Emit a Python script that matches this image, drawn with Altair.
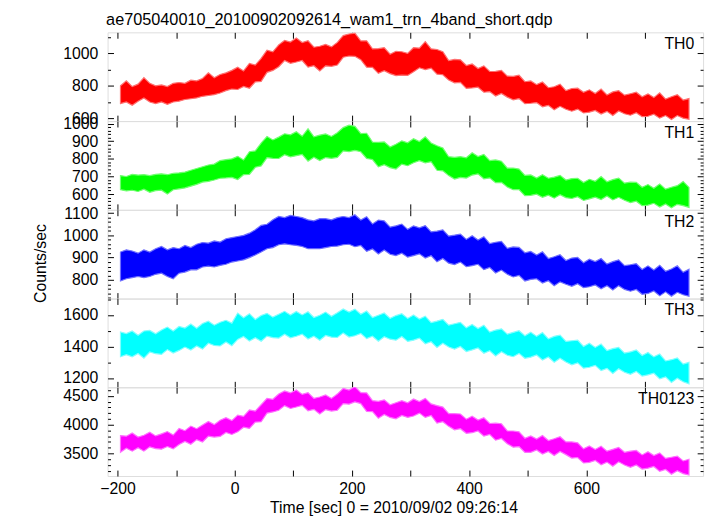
import altair as alt
import pandas as pd

FONT = "Liberation Sans"
W, H = 604, 90
XDOM = [-217, 799]

TITLE = "ae705040010_20100902092614_wam1_trn_4band_short.qdp"
XTITLE = "Time [sec] 0 = 2010/09/02 09:26:14"
YTITLE = "Counts/sec"

TIME = [-195, -185, -175, -165, -155, -145, -135, -125, -115, -105,
        -95, -85, -75, -65, -55, -45, -35, -25, -15, -5,
        5, 15, 25, 35, 45, 55, 65, 75, 85, 95,
        105, 115, 125, 135, 145, 155, 165, 175, 185, 195,
        205, 215, 225, 235, 245, 255, 265, 275, 285, 295,
        305, 315, 325, 335, 345, 355, 365, 375, 385, 395,
        405, 415, 425, 435, 445, 455, 465, 475, 485, 495,
        505, 515, 525, 535, 545, 555, 565, 575, 585, 595,
        605, 615, 625, 635, 645, 655, 665, 675, 685, 695,
        705, 715, 725, 735, 745, 755, 765, 775]

TH0_HI = [800, 830, 795, 810, 850, 815, 800, 805, 795, 815,
          820, 815, 835, 830, 845, 880, 850, 870, 880, 895,
          915, 892, 938, 928, 969, 1020, 1010, 1053, 1080, 1070,
          1095, 1067, 1078, 1038, 1044, 1055, 1040, 1068, 1110, 1120,
          1125, 1077, 1078, 1028, 1029, 1035, 995, 1013, 1010, 1000,
          1035, 1032, 1073, 1028, 1024, 1010, 955, 963, 960, 925,
          935, 907, 923, 888, 889, 895, 860, 858, 865, 825,
          830, 807, 823, 788, 794, 810, 770, 783, 785, 760,
          775, 752, 780, 743, 762, 770, 742, 751, 760, 732,
          750, 727, 756, 718, 732, 745, 712, 721]
TH0_LO = [690, 700, 680, 705, 725, 700, 690, 700, 685, 700,
          705, 715, 720, 725, 735, 740, 745, 755, 770, 780,
          777, 796, 785, 824, 827, 883, 895, 918, 956, 939,
          947, 956, 915, 924, 892, 923, 920, 928, 976, 984,
          982, 961, 915, 914, 877, 893, 875, 863, 866, 864,
          887, 911, 900, 909, 872, 868, 835, 818, 821, 784,
          787, 791, 760, 764, 737, 753, 730, 713, 721, 689,
          692, 696, 670, 679, 652, 673, 655, 643, 656, 632,
          637, 648, 625, 642, 617, 644, 627, 618, 634, 609,
          612, 624, 600, 616, 592, 616, 600, 593]

TH1_HI = [705, 700, 712, 708, 710, 705, 712, 715, 710, 718,
          720, 725, 735, 745, 755, 765, 770, 790, 795, 800,
          814, 793, 840, 845, 889, 926, 907, 923, 942, 936,
          954, 928, 970, 925, 934, 941, 927, 948, 977, 991,
          984, 943, 945, 895, 894, 896, 867, 883, 902, 891,
          914, 898, 925, 890, 874, 861, 812, 808, 812, 806,
          834, 813, 825, 790, 794, 786, 747, 748, 742, 706,
          709, 691, 710, 690, 696, 706, 680, 688, 690, 666,
          684, 673, 700, 670, 682, 691, 662, 668, 667, 639,
          654, 633, 657, 628, 639, 648, 672, 638]
TH1_LO = [625, 618, 622, 615, 628, 610, 620, 622, 600, 625,
          630, 635, 645, 655, 668, 672, 680, 690, 692, 695,
          683, 710, 712, 752, 760, 807, 803, 802, 823, 811,
          818, 825, 787, 809, 790, 807, 803, 808, 845, 841,
          848, 840, 802, 796, 755, 767, 750, 742, 770, 761,
          778, 790, 777, 784, 735, 732, 705, 685, 695, 691,
          708, 715, 687, 692, 665, 667, 640, 625, 625, 591,
          593, 600, 582, 594, 577, 597, 580, 575, 585, 564,
          573, 583, 569, 589, 567, 582, 565, 552, 560, 534,
          538, 548, 527, 544, 523, 542, 535, 525]

TH2_HI = [925, 935, 930, 920, 935, 925, 940, 950, 935, 945,
          940, 955, 945, 960, 968, 965, 975, 970, 985, 990,
          995, 1000, 1010, 1025, 1045, 1050, 1070, 1085, 1080, 1090,
          1085, 1080, 1070, 1065, 1075, 1075, 1070, 1080, 1085, 1080,
          1093, 1069, 1084, 1051, 1069, 1065, 1037, 1043, 1051, 1027,
          1043, 1034, 1044, 1016, 1019, 1025, 997, 1001, 1006, 982,
          998, 979, 994, 963, 969, 973, 942, 948, 946, 922,
          928, 912, 926, 896, 904, 913, 887, 898, 901, 877,
          893, 882, 896, 871, 882, 890, 864, 868, 873, 847,
          863, 844, 866, 839, 849, 863, 834, 848]
TH2_LO = [795, 805, 810, 815, 810, 815, 825, 830, 815, 805,
          830, 835, 845, 845, 858, 862, 858, 865, 870, 880,
          885, 890, 900, 912, 925, 940, 945, 958, 962, 958,
          955, 950, 940, 940, 940, 945, 950, 952, 958, 960,
          949, 955, 928, 939, 916, 934, 915, 909, 920, 902,
          909, 917, 898, 909, 881, 896, 875, 869, 880, 859,
          864, 870, 846, 856, 831, 844, 825, 813, 820, 795,
          802, 805, 786, 796, 774, 791, 780, 771, 783, 765,
          769, 777, 760, 774, 754, 774, 757, 749, 757, 735,
          739, 750, 728, 746, 726, 744, 733, 726]

TH3_HI = [1492, 1482, 1498, 1471, 1498, 1502, 1480, 1504, 1523, 1498,
          1527, 1517, 1542, 1516, 1546, 1560, 1535, 1554, 1566, 1548,
          1612, 1582, 1608, 1571, 1596, 1610, 1586, 1604, 1623, 1600,
          1622, 1600, 1620, 1584, 1598, 1618, 1592, 1614, 1638, 1618,
          1637, 1604, 1625, 1584, 1598, 1612, 1578, 1596, 1608, 1578,
          1600, 1574, 1592, 1551, 1561, 1572, 1535, 1544, 1553, 1518,
          1540, 1514, 1535, 1491, 1504, 1512, 1478, 1489, 1500, 1468,
          1490, 1464, 1488, 1448, 1464, 1472, 1432, 1436, 1440, 1400,
          1420, 1394, 1415, 1374, 1386, 1394, 1358, 1366, 1378, 1343,
          1362, 1334, 1352, 1308, 1316, 1327, 1288, 1299]
TH3_LO = [1335, 1348, 1334, 1355, 1326, 1365, 1354, 1350, 1380, 1358,
          1375, 1396, 1377, 1403, 1383, 1420, 1406, 1403, 1428, 1405,
          1445, 1463, 1434, 1455, 1433, 1466, 1456, 1453, 1478, 1455,
          1465, 1478, 1447, 1465, 1440, 1470, 1459, 1457, 1486, 1460,
          1468, 1483, 1450, 1465, 1433, 1462, 1446, 1440, 1463, 1432,
          1440, 1453, 1417, 1430, 1393, 1420, 1396, 1383, 1400, 1368,
          1378, 1390, 1357, 1373, 1340, 1366, 1344, 1335, 1356, 1325,
          1332, 1346, 1314, 1333, 1300, 1325, 1302, 1283, 1296, 1262,
          1268, 1280, 1247, 1261, 1228, 1258, 1236, 1223, 1242, 1212,
          1220, 1230, 1194, 1207, 1172, 1198, 1176, 1163]

TH0123_HI = [3810, 3800, 3855, 3785, 3815, 3870, 3805, 3840, 3880, 3820,
             3935, 3895, 3975, 3930, 3995, 4055, 4000, 4075, 4120, 4070,
             4165, 4145, 4255, 4235, 4345, 4455, 4440, 4530, 4585, 4550,
             4600, 4525, 4555, 4455, 4480, 4515, 4455, 4530, 4630, 4600,
             4660, 4555, 4550, 4415, 4405, 4430, 4345, 4380, 4415, 4380,
             4445, 4400, 4455, 4360, 4330, 4305, 4190, 4190, 4185, 4095,
             4145, 4080, 4120, 4020, 4025, 4015, 3890, 3890, 3875, 3765,
             3805, 3750, 3810, 3725, 3755, 3790, 3700, 3700, 3685, 3580,
             3630, 3570, 3625, 3540, 3572, 3605, 3520, 3540, 3552, 3475,
             3530, 3465, 3510, 3415, 3435, 3455, 3370, 3400]
TH0123_LO = [3520, 3590, 3540, 3600, 3540, 3615, 3585, 3575, 3620, 3580,
             3655, 3710, 3660, 3740, 3700, 3800, 3785, 3795, 3865, 3830,
             3875, 3955, 3935, 4045, 4050, 4200, 4220, 4250, 4330, 4280,
             4305, 4335, 4240, 4265, 4185, 4260, 4235, 4250, 4365, 4355,
             4395, 4365, 4230, 4225, 4110, 4175, 4125, 4100, 4160, 4125,
             4150, 4200, 4125, 4160, 4025, 4050, 3970, 3910, 3930, 3850,
             3860, 3890, 3800, 3830, 3730, 3760, 3670, 3610, 3620, 3520,
             3520, 3560, 3490, 3535, 3465, 3535, 3480, 3420, 3430, 3335,
             3345, 3380, 3305, 3350, 3280, 3355, 3300, 3260, 3300, 3230,
             3245, 3275, 3190, 3225, 3140, 3200, 3150, 3125]

X_LABELS = [-200, 0, 200, 400, 600]
X_TICKS = [-200, -100, 0, 100, 200, 300, 400, 500, 600, 700]

PANELS = [
    dict(name="TH0", color="#ff0000", edge="#ff7070", lo=TH0_LO, hi=TH0_HI,
         dom=[582, 1130], labels=[600, 800, 1000], minor=[700, 900, 1100]),
    dict(name="TH1", color="#00ff00", edge="#70ff70", lo=TH1_LO, hi=TH1_HI,
         dom=[511, 1014], labels=[600, 700, 800, 900, 1000],
         minor=[v for v in range(520, 1014, 20) if v % 100]),
    dict(name="TH2", color="#0000ff", edge="#7070ff", lo=TH2_LO, hi=TH2_HI,
         dom=[716, 1115], labels=[800, 900, 1000, 1100],
         minor=[v for v in range(720, 1115, 20) if v % 100]),
    dict(name="TH3", color="#00ffff", edge="#80ffff", lo=TH3_LO, hi=TH3_HI,
         dom=[1141, 1704], labels=[1200, 1400, 1600], minor=[1300, 1500, 1700]),
    dict(name="TH0123", color="#ff00ff", edge="#ff70ff", lo=TH0123_LO, hi=TH0123_HI,
         dom=[3109, 4648], labels=[3500, 4000, 4500],
         minor=[v for v in range(3200, 4648, 100) if v % 500]),
]


def make_panel(p, last, mid):
    df = pd.DataFrame({"t": TIME, "lo": p["lo"], "hi": p["hi"]})
    base = alt.Chart(df)
    xs = alt.Scale(domain=XDOM, nice=False, zero=False)
    ys = alt.Scale(domain=p["dom"], nice=False, zero=False)

    if last:
        xax = alt.Axis(values=X_LABELS, ticks=False, domain=False, grid=False,
                       format="d", labelFont=FONT, labelFontSize=16,
                       labelColor="black", labelPadding=5, labelFlush=False,
                       title=XTITLE, titleFont=FONT,
                       titleFontSize=16, titleFontWeight="normal",
                       titleColor="black", titlePadding=3, titleX=290)
    else:
        xax = None
    ykw = dict(values=p["labels"], ticks=False, domain=False, grid=False,
               format="d", labelFont=FONT, labelFontSize=16, labelColor="black",
               labelPadding=10, labelFlush=False)
    if mid:
        ykw.update(title=YTITLE, titleFont=FONT, titleFontSize=16,
                   titleFontWeight="normal", titleColor="black",
                   titleX=-60, titleY=54, titleAngle=270, titleBaseline="bottom")
    else:
        ykw.update(title=None)
    yax = alt.Axis(**ykw)

    area = base.mark_area(color=p["color"], stroke=p["edge"], strokeWidth=1.2,
                          interpolate="linear", clip=True, opacity=1).encode(
        x=alt.X("t:Q", scale=xs, axis=xax),
        y=alt.Y("lo:Q", scale=ys, axis=yax),
        y2="hi:Q",
    )

    def ticks(xorient, yorient, yvals, xvals, size):
        if xvals:
            xa = alt.Axis(orient=xorient, offset=-H, values=xvals, tickSize=size,
                          labels=False, domain=False, grid=False, title=None,
                          tickColor="black", tickWidth=1)
        else:
            xa = None
        ya = alt.Axis(orient=yorient, offset=-W, values=yvals, tickSize=size,
                      labels=False, domain=False, grid=False, title=None,
                      tickColor="black", tickWidth=1)
        return base.mark_line(opacity=0).encode(
            x=alt.X("t:Q", scale=xs, axis=xa),
            y=alt.Y("lo:Q", scale=ys, axis=ya),
        )

    l2 = ticks("top", "right", p["labels"], X_TICKS, 6)
    l3 = ticks("bottom", "left", p["labels"], X_TICKS, 6)
    l4 = ticks("top", "right", p["minor"], None, 3)
    l5 = ticks("bottom", "left", p["minor"], None, 3)

    lab = alt.Chart(pd.DataFrame({"s": [p["name"]]})).mark_text(
        align="right", baseline="top", font=FONT, fontSize=16, color="black"
    ).encode(x=alt.value(W - 9), y=alt.value(4), text="s:N")

    return alt.layer(area, l2, l3, l4, l5, lab).resolve_axis(
        x="independent", y="independent"
    ).properties(width=W, height=H)


charts = [make_panel(p, i == 4, i == 2) for i, p in enumerate(PANELS)]

chart = alt.vconcat(*charts, spacing=0, bounds="flush").properties(
    title=alt.TitleParams(text=TITLE, anchor="start", font=FONT, fontSize=16.5,
                          fontWeight="normal", color="black", offset=3, dx=75),
    padding={"left": 24, "top": 0, "right": 5, "bottom": 5},
).configure_view(
    stroke="#222222", strokeWidth=1.3
).configure(background="white")

chart.save("out.html", embed_options={"renderer": "svg", "actions": False})
